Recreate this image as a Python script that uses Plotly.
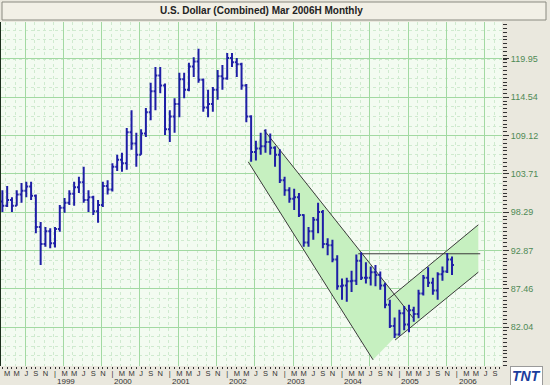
import plotly.graph_objects as go

# ---------------- data (monthly OHLC, first bar = Feb 1998) ----------------
start_year, start_month = 1998, 2
opens = [99.8, 99.2, 100.0, 99.2, 100.8, 101.3, 101.9, 100.6, 96.2, 93.8, 95.6,
         93.9, 95.9, 98.9, 99.6, 100.9, 101.8, 102.5, 100.0, 100.4, 98.4, 99.3, 102.0,
         101.5, 104.7, 105.7, 105.2, 109.6, 108.0, 106.4, 109.4, 112.4, 115.4, 117.6, 116.2,
         110.0, 111.8, 113.6, 117.1, 115.6, 118.9, 119.6, 117.0, 113.1, 113.6, 115.6, 117.5,
         117.2, 120.1, 119.5, 119.2, 116.2, 111.8, 106.8, 107.3, 107.6, 108.2, 107.4, 106.4,
         102.8, 101.4, 100.2, 100.4, 97.9, 94.0, 95.6, 97.2, 98.3, 93.8, 93.6, 91.6,
         87.8, 87.9, 88.5, 88.6, 91.4, 89.0, 89.0, 89.8, 89.4, 87.9, 85.2, 82.2,
         81.0, 84.0, 82.4, 84.4, 83.9, 86.8, 89.0, 88.3, 87.2, 89.5, 89.9, 91.6]
highs = [101.4, 102.0, 100.4, 101.4, 102.4, 102.6, 102.6, 100.8, 96.9, 96.2, 96.0,
         96.2, 99.3, 100.3, 101.4, 102.6, 103.3, 104.7, 101.4, 100.6, 100.0, 102.6, 102.8,
         105.2, 106.4, 106.7, 110.2, 112.7, 109.5, 110.0, 113.0, 116.6, 118.8, 118.8, 116.5,
         112.7, 114.4, 118.0, 118.0, 119.4, 120.2, 121.4, 117.2, 115.6, 116.0, 118.4, 119.1,
         120.8, 120.8, 120.1, 119.4, 116.4, 112.0, 108.4, 109.5, 110.0, 109.4, 107.6, 107.2,
         103.3, 101.8, 101.6, 101.0, 98.0, 96.2, 97.6, 99.6, 98.6, 94.6, 94.4, 92.2,
         88.9, 89.0, 90.0, 92.3, 92.6, 91.2, 90.6, 90.8, 89.9, 88.3, 85.9, 83.4,
         84.5, 85.0, 85.2, 84.9, 87.3, 89.4, 90.5, 89.0, 89.8, 90.6, 92.5, 92.0]
lows = [98.3, 99.0, 98.3, 99.2, 99.6, 100.4, 100.0, 95.3, 90.8, 93.4, 93.2,
        93.3, 95.5, 98.2, 99.3, 99.2, 101.0, 99.6, 98.3, 97.9, 96.8, 99.0, 100.8,
        101.2, 104.1, 104.0, 104.3, 107.1, 104.7, 106.4, 108.9, 111.3, 112.7, 115.1, 109.2,
        108.2, 109.5, 111.7, 114.4, 115.4, 117.4, 116.6, 112.5, 111.7, 112.5, 114.2, 115.6,
        117.0, 118.8, 117.4, 115.6, 111.0, 105.4, 105.6, 106.4, 106.7, 106.4, 104.7, 102.4,
        100.6, 99.6, 98.6, 97.6, 93.4, 93.4, 94.4, 95.3, 93.2, 92.2, 91.2, 87.3,
        85.9, 85.6, 87.0, 88.0, 88.7, 88.2, 87.9, 87.8, 87.3, 84.7, 81.9, 80.5,
        80.8, 81.6, 81.3, 82.8, 83.3, 86.5, 87.7, 86.6, 85.9, 88.6, 89.7, 89.4]
closes = [99.2, 100.0, 99.2, 100.8, 101.3, 101.9, 100.6, 96.2, 93.8, 95.6, 93.9,
          95.9, 98.9, 99.6, 100.9, 101.8, 102.5, 100.0, 100.4, 98.4, 99.3, 102.0, 101.5,
          104.7, 105.7, 105.2, 109.6, 108.0, 106.4, 109.4, 112.4, 115.4, 117.6, 116.2, 110.0,
          111.8, 113.6, 117.1, 115.6, 118.9, 119.6, 117.0, 113.1, 113.6, 115.6, 117.5, 117.2,
          120.1, 119.5, 119.2, 116.2, 111.8, 106.8, 107.3, 107.6, 108.2, 107.4, 106.4, 102.8,
          101.4, 100.2, 100.4, 97.9, 94.0, 95.6, 97.2, 98.3, 93.8, 93.6, 91.6, 87.8,
          87.9, 88.5, 88.6, 91.4, 89.0, 89.0, 89.8, 89.4, 87.9, 85.2, 82.2, 81.0,
          84.0, 82.4, 84.4, 83.9, 86.8, 89.0, 88.3, 87.2, 89.5, 89.9, 91.6, 90.8]

# month index: 0 = Jan 1998
bar_months = [(start_year - 1998) * 12 + (start_month - 1) + i for i in range(len(opens))]

# price scale labels
price_ticks = [82.04, 87.46, 92.87, 98.29, 103.71, 109.12, 114.54, 119.95]
years = list(range(1999, 2007))
month_letters = ["|", "", "M", "", "M", "", "J", "", "S", "", "N", ""]

# analyst drawings (month index, price)
down_upper_m, down_upper_p = [55.7, 86.9], [109.9, 83.3]
down_lower_m, down_lower_p = [52.4, 78.5], [105.4, 77.4]
up_upper_m, up_upper_p = [81.5, 100.5], [85.9, 96.5]
up_lower_m, up_lower_p = [83.1, 100.5], [80.2, 89.8]
resist_m, resist_p = [75.4, 100.9], [92.4, 92.4]

x_range = [0.71, 105.45]
y_range = [76.53, 125.18]
grid_step_m = 8.007
grid_step_p = 5.4143

# ---------------- figure ----------------
fig = go.Figure()

fill_col = "#c6f0c0"
line_col = "#3a3a3a"

# channel fills (on the grid axes, below the bars)
fig.add_trace(go.Scatter(
    x=[down_lower_m[0], down_upper_m[0], down_upper_m[1], down_lower_m[1]],
    y=[down_lower_p[0], down_upper_p[0], down_upper_p[1], down_lower_p[1]],
    fill="toself", fillcolor=fill_col, line=dict(width=0), mode="lines",
    hoverinfo="skip", showlegend=False))
fig.add_trace(go.Scatter(
    x=[up_lower_m[0], up_upper_m[0], up_upper_m[1], up_lower_m[1]],
    y=[up_lower_p[0], up_upper_p[0], up_upper_p[1], up_lower_p[1]],
    fill="toself", fillcolor=fill_col, line=dict(width=0), mode="lines",
    hoverinfo="skip", showlegend=False))

for xs, ys in [(down_upper_m, down_upper_p), (down_lower_m, down_lower_p),
               (up_upper_m, up_upper_p), (up_lower_m, up_lower_p),
               (resist_m, resist_p)]:
    fig.add_trace(go.Scatter(x=xs, y=ys, mode="lines",
                             line=dict(color=line_col, width=1),
                             hoverinfo="skip", showlegend=False))

bar_col = "#1e1ea6"
fig.add_trace(go.Ohlc(
    x=bar_months, open=opens, high=highs, low=lows, close=closes,
    xaxis="x2", yaxis="y2",
    increasing=dict(line=dict(color=bar_col, width=2)),
    decreasing=dict(line=dict(color=bar_col, width=2)),
    tickwidth=0.4, showlegend=False, hoverinfo="skip"))

month_vals = list(range(0, 106))
month_text = [month_letters[m % 12] for m in month_vals]

major_grid = "#a2d9a2"
minor_grid = "#cfeacf"

fig.update_layout(
    width=550, height=385,
    margin=dict(l=1, r=48, t=22, b=19),
    paper_bgcolor="#eae8de",
    plot_bgcolor="#f3fbf1",
    font=dict(family="Liberation Sans, Arial, sans-serif", color="#333333"),
    xaxis=dict(range=x_range, tickmode="linear", tick0=5.73, dtick=grid_step_m,
               showticklabels=False, ticks="", showgrid=True, gridcolor=major_grid,
               gridwidth=1, zeroline=False, showline=False,
               minor=dict(tick0=5.73, dtick=grid_step_m / 4, showgrid=True,
                          gridcolor=minor_grid, griddash="dot", ticks=""),
               rangeslider=dict(visible=False), fixedrange=True),
    yaxis=dict(range=y_range, tickmode="array", tickvals=price_ticks,
               showticklabels=False, ticks="", showgrid=True, gridcolor=major_grid,
               zeroline=False, showline=True, linecolor="#1c2e1c", linewidth=2,
               minor=dict(tick0=82.04, dtick=grid_step_p / 4, showgrid=True,
                          gridcolor=minor_grid, griddash="dot", ticks=""),
               fixedrange=True),
    xaxis2=dict(overlaying="x", anchor="y", side="bottom", range=x_range,
                tickmode="array", tickvals=month_vals, ticktext=month_text,
                ticks="outside", ticklen=2, tickcolor="#333333", tickwidth=1,
                ticklabelstandoff=-2,
                tickfont=dict(size=7.5, color="#333333"), showgrid=False,
                zeroline=False, showline=False, fixedrange=True,
                rangeslider=dict(visible=False)),
    yaxis2=dict(overlaying="y", anchor="x", side="right", range=y_range,
                tickmode="array", tickvals=price_ticks,
                ticktext=[f"{v:.2f}" for v in price_ticks],
                ticks="outside", ticklen=6, tickcolor="#333333", tickwidth=1,
                tickfont=dict(size=9, color="#4f8a55"), showgrid=False,
                zeroline=False, showline=False,
                minor=dict(tick0=82.04, dtick=grid_step_p / 10, ticks="outside",
                           ticklen=4, tickcolor="#333333", tickwidth=1),
                fixedrange=True),
)

# title bar
fig.add_shape(type="rect", xref="paper", yref="paper",
              x0=1 / 501, x1=545 / 501, y0=(366 - 20) / 344, y1=(366 - 2) / 344,
              fillcolor="#f2f0e6", line=dict(color="#8a8a80", width=1), layer="above")
fig.add_annotation(text="<b>U.S. Dollar (Combined) Mar 2006H Monthly</b>",
                   xref="paper", yref="paper", x=260.5 / 501, y=(366 - 11) / 344,
                   showarrow=False, font=dict(size=10, color="#222222"),
                   xanchor="center", yanchor="middle")

# year labels
for yr in years:
    fig.add_annotation(text=str(yr), x=(yr - 1998) * 12, xref="x",
                       y=-15.5 / 344, yref="paper", showarrow=False,
                       xanchor="left", yanchor="middle",
                       font=dict(size=8, color="#333333"))

# logo
fig.add_annotation(text="<b><i>TNT</i></b>", xref="paper", yref="paper",
                   x=525 / 501, y=-10 / 344, showarrow=False,
                   xanchor="center", yanchor="middle",
                   font=dict(size=14, color="#1b3d9c", family="Liberation Sans, Arial"),
                   bgcolor="#ffffff", bordercolor="#9a9a9a", borderwidth=1, borderpad=1)

fig.write_html("out.html",
               config={"displayModeBar": False, "staticPlot": True},
               post_script="document.body.style.margin='0px';"
                           "document.body.style.overflow='hidden';")
